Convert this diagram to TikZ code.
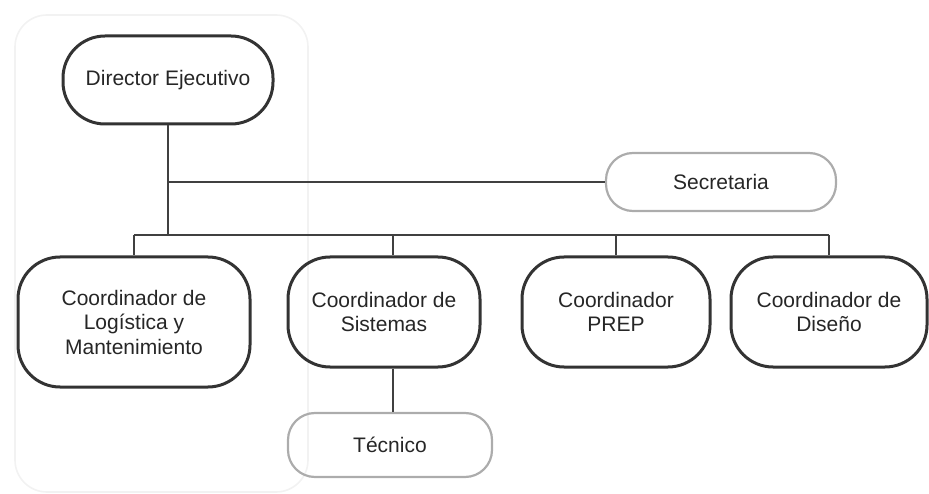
\documentclass[tikz,border=0pt]{standalone}
\usepackage{fontspec}
\setmainfont{Liberation Sans}
\begin{document}
\begin{tikzpicture}[x=1pt,y=-1pt,
  boxbase/.style={align=center, inner sep=0pt, text=black!85,
    font=\fontsize{21}{24.5}\selectfont},
  darkbox/.style={boxbase, draw=black!80, line width=3pt, rounded corners=42pt},
  lightbox/.style={boxbase, draw=gray!65, line width=2.2pt, rounded corners=27pt},
  conn/.style={draw=black!75, line width=1.1pt}]
\useasboundingbox (0,0) rectangle (929,494);
\draw[gray!10, line width=1.6pt, rounded corners=32pt] (15,15) rectangle (308,492);

\node[darkbox, minimum width=210pt, minimum height=88pt] (dir) at (168,80) {Director Ejecutivo};
\node[lightbox, minimum width=230pt, minimum height=58pt] (sec) at (721,182) {Secretaria};
\node[darkbox, minimum width=232pt, minimum height=130pt] (log) at (134,322) {Coordinador de\\Logística y\\Mantenimiento};
\node[darkbox, minimum width=192pt, minimum height=110pt] (sis) at (384,312) {Coordinador de\\Sistemas};
\node[darkbox, minimum width=188pt, minimum height=110pt] (prep) at (616,312) {Coordinador\\PREP};
\node[darkbox, minimum width=196pt, minimum height=110pt] (dis) at (829,312) {Coordinador de\\Diseño};
\node[lightbox, minimum width=204pt, minimum height=64pt] (tec) at (390,445) {Técnico};

\coordinate (bus) at (0,235);
\coordinate (sisx) at ([xshift=9pt]sis.north);
\draw[conn] (dir.south) -- (dir.south |- bus);
\draw[conn] (dir.south |- sec.west) -- (sec.west);
\draw[conn] (log.north |- bus) -- (dis.north |- bus);
\foreach \n in {log,prep,dis} \draw[conn] (\n.north |- bus) -- (\n.north);
\draw[conn] (sisx |- bus) -- (sisx);
\draw[conn] (sisx |- sis.south) -- (sisx |- tec.north);
\end{tikzpicture}
\end{document}
